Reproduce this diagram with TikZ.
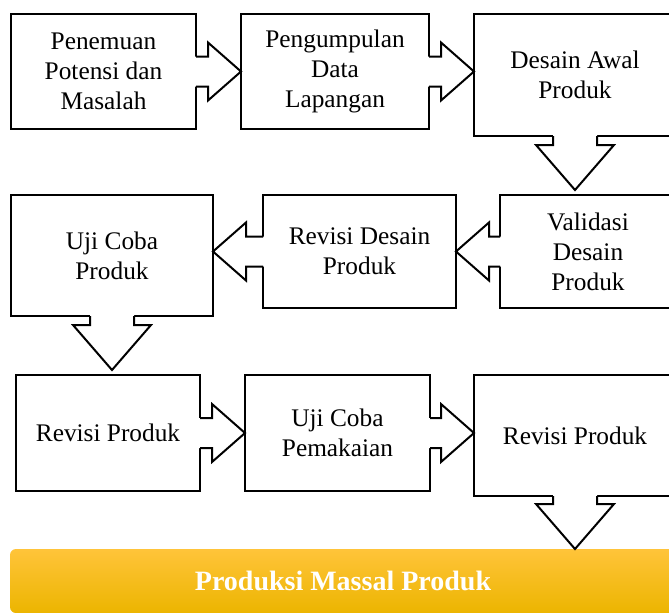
\documentclass[tikz,border=0pt]{standalone}
\usepackage{fontspec}
\setmainfont{Liberation Serif}
\usepackage{tikz}
\usetikzlibrary{calc}
\usetikzlibrary{positioning}
\usepackage{xcolor}
\definecolor{barTop}{HTML}{FFC43A}
\definecolor{barMid}{HTML}{FFC800}
\definecolor{barBot}{HTML}{ECB500}
\tikzstyle{stageline} = [line width=1.5pt,line join=miter]
\tikzstyle{stage} = [draw,stageline,rectangle,outer sep=0pt,inner sep=2pt,align=center,fill=white,font=\fontsize{19}{22.5}\selectfont]
\tikzstyle{massal} = [rectangle,outer sep=0pt,rounded corners=4.5pt,top color=barTop,middle color=barMid,bottom color=barBot,text=white,font=\fontsize{21}{24}\selectfont\bfseries]
\tikzset{boxsize/.style 2 args={minimum width=#1*0.75pt,minimum height=#2*0.75pt}}
% block arrow: tail, tip, shaft half width, head half width, head length
\newcommand{\stagearrow}[5]{%
  \coordinate (ab) at ($(#2)!#5!(#1)$);
  \coordinate (ae) at ($(#1)!-2pt!(#2)$);
  \fill[white] ($(ae)!#3!90:(#2)$) -- ($(ab)!#3!90:(#2)$) -- ($(ab)!#4!90:(#2)$) -- (#2)
    -- ($(ab)!#4!-90:(#2)$) -- ($(ab)!#3!-90:(#2)$) -- ($(ae)!#3!-90:(#2)$) -- cycle;
  \draw[stageline] ($(#1)!#3!90:(#2)$) -- ($(ab)!#3!90:(#2)$) -- ($(ab)!#4!90:(#2)$) -- (#2)
    -- ($(ab)!#4!-90:(#2)$) -- ($(ab)!#3!-90:(#2)$) -- ($(#1)!#3!-90:(#2)$);
}
\newcommand{\harrow}[2]{\stagearrow{#1}{#2}{11.25pt}{21.75pt}{24.75pt}}
\newcommand{\varrow}[2]{\stagearrow{#1}{#2}{16.5pt}{29.25pt}{33.75pt}}

\begin{document}
\begin{tikzpicture}[x=0.75pt,y=-0.75pt]
\useasboundingbox (0,0) rectangle (669,612);
\clip (0,0) rectangle (669,612);

\node[stage, boxsize={185}{115}, anchor=north west] (pot) at (11,14) {Penemuan\\Potensi dan\\Masalah};
\node[stage, boxsize={188}{115}, right=33.75pt of pot] (dat) {Pengumpulan\\Data\\Lapangan};
\node[stage, boxsize={202}{122}, right=33.75pt of dat.north east, anchor=north west] (des) {Desain Awal\\Produk};

\node[stage, boxsize={176}{113}, below=44.25pt of des.south east, anchor=north east] (val) {Validasi\\Desain\\Produk};
\node[stage, boxsize={193}{113}, left=33pt of val] (rde) {Revisi Desain\\Produk};
\node[stage, boxsize={202}{121}, left=37.5pt of rde.north west, anchor=north east] (uji) {Uji Coba\\Produk};

\node[stage, boxsize={184}{116}, below=44.25pt of uji.south west, anchor=north west, xshift=3.75pt] (rpr) {Revisi Produk};
\node[stage, boxsize={185}{116}, right=33.75pt of rpr] (pem) {Uji Coba\\Pemakaian};
\node[stage, boxsize={202}{121}, right=33pt of pem.north east, anchor=north west] (rpk) {Revisi Produk};

\node[massal, boxsize={666}{64}, below=39.75pt of rpk.south east, anchor=north east] (mas) {Produksi Massal Produk};

\coordinate (t1) at (pot.east -| dat.west);
\coordinate (t2) at (dat.east -| des.west);
\coordinate (t3) at ($(des.south)+(0,54)$);
\coordinate (t4) at (val.west -| rde.east);
\coordinate (t5) at (rde.west -| uji.east);
\coordinate (t6) at ($(uji.south)+(0,54)$);
\coordinate (t7) at (rpr.east -| pem.west);
\coordinate (t8) at (pem.east -| rpk.west);
\coordinate (t9) at (rpk.south |- mas.north);

\harrow{pot.east}{t1}
\harrow{dat.east}{t2}
\varrow{des.south}{t3}
\harrow{val.west}{t4}
\harrow{rde.west}{t5}
\varrow{uji.south}{t6}
\harrow{rpr.east}{t7}
\harrow{pem.east}{t8}
\varrow{rpk.south}{t9}
\end{tikzpicture}
\end{document}
